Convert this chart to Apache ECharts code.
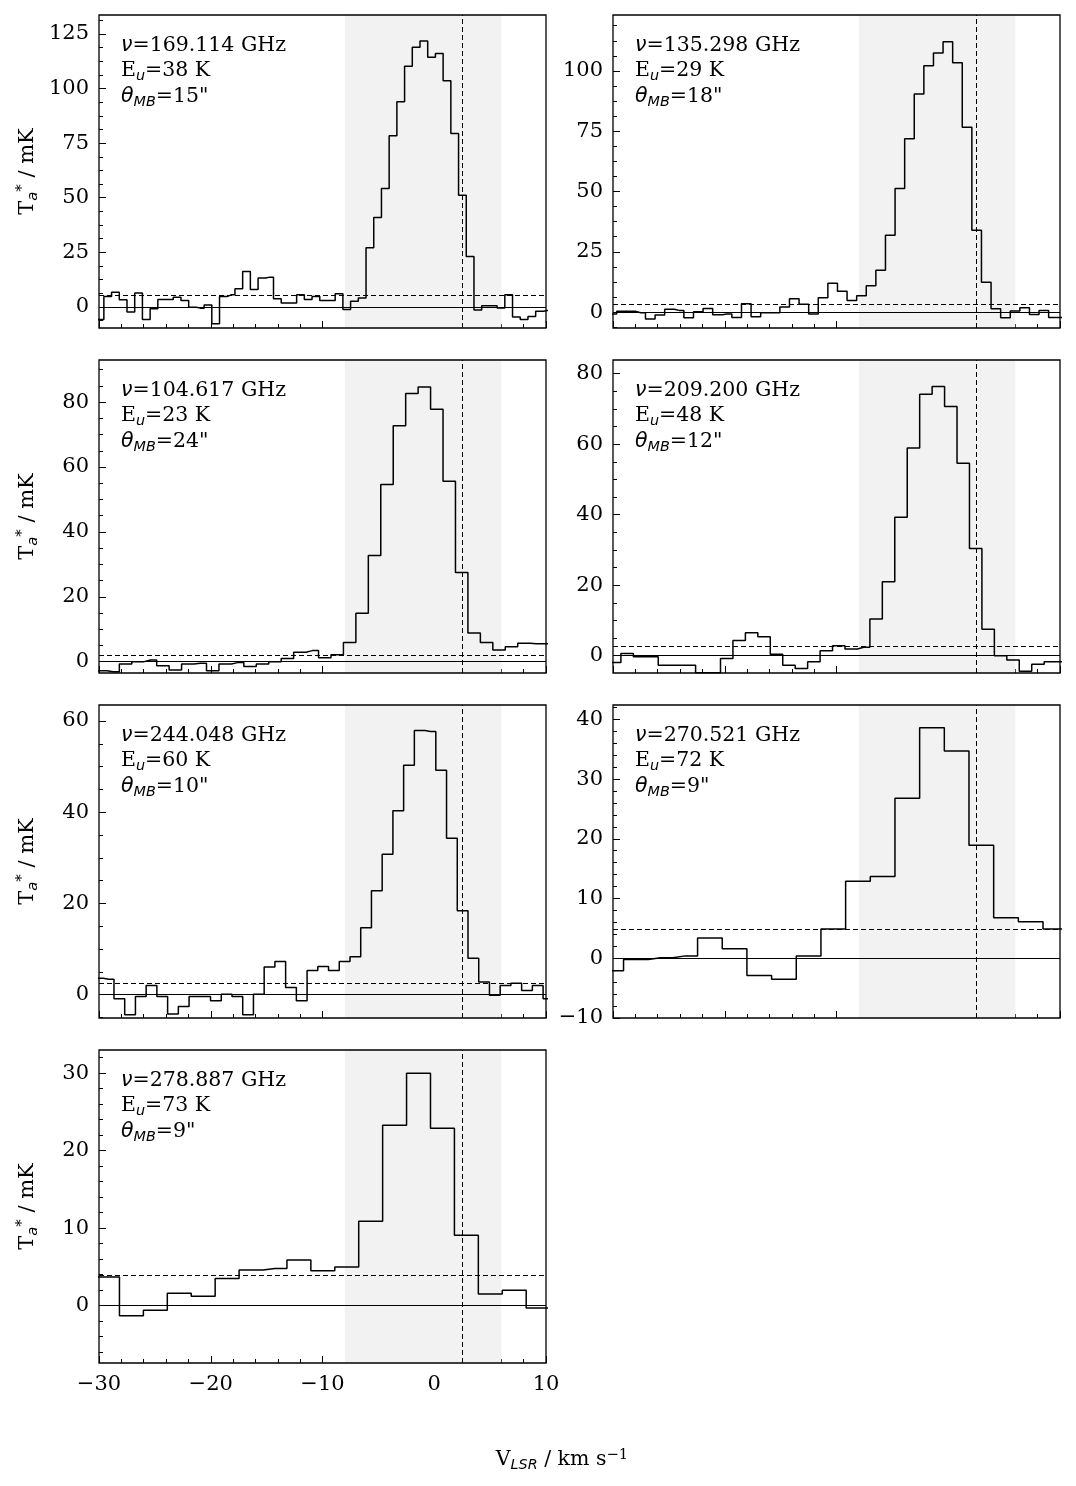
<!DOCTYPE html>
<html>
<head>
<meta charset="utf-8">
<script src="https://cdn.jsdelivr.net/npm/echarts@6/dist/echarts.min.js"></script>
<style>
  html, body { margin: 0; padding: 0; background: #fff; }
  #chart { width: 1076px; height: 1486px; }
</style>
</head>
<body>
<div id="chart"></div>
<script>
// velocity axis (km/s)
const velMin = -30;
const velMax = 10;
const shadeFrom = -8;
const shadeTo = 6;
const vSource = 2.5;

// line info shown in each panel
const freqs = ["169.114", "135.298", "104.617", "209.200", "244.048", "270.521", "278.887"];
const eUp = [38, 29, 23, 48, 60, 72, 73];
const beams = [15, 18, 24, 12, 10, 9, 9];

// channel grid: centre of first channel and channel width (km/s)
const chanStart = [-29.91, -30.10, -29.85, -29.85, -30.10, -30.16, -29.24];
const chanWidth = [0.69, 0.859, 1.114, 1.114, 0.960, 2.208, 2.141];

// 3 sigma noise level (mK)
const sigma3 = [5.2, 3.3, 2.0, 2.8, 2.6, 4.9, 3.9];

// y ranges and ticks
const yMin = [-9.7, -6.6, -3.5, -4.9, -5.1, -10.0, -7.4];
const yMax = [133.7, 123.2, 93.0, 83.9, 63.5, 42.4, 33.0];
const yTicks = [
  [0, 25, 50, 75, 100, 125],
  [0, 25, 50, 75, 100],
  [0, 20, 40, 60, 80],
  [0, 20, 40, 60, 80],
  [0, 20, 40, 60],
  [-10, 0, 10, 20, 30, 40],
  [0, 10, 20, 30]
];
const yMinorStep = [6.25, 6.25, 5, 5, 5, 2, 2];

// spectra, T_a* in mK per channel
const spec169 = [-5.8, 4.7, 6.7, 3.2, -2.4, 6.3, -5.8, -0.9, 3.4, 3.4, 4.4, 2.9, -0.2, -0.6, 0.8,
  -7.8, 4.7, 5.5, 8.3, 16.2, 7.9, 13.2, 13.6, 3.7, 1.8, 1.8, 5.5, 3.4, 4.7, 2.9, 2.9, 6.0, -1.2,
  2.6, 4.0, 27.1, 40.9, 54.2, 78.4, 94.0, 110.2, 118.9, 121.8, 114.3, 116.1, 103.6, 79.4, 51.1,
  23.1, -1.4, 0.5, 0.5, -0.5, 5.5, -4.7, -5.8, -4.4, -2.0, -1.7];
const spec135 = [-0.8, 0.3, 0.3, -0.3, -2.9, -1.2, 1.2, 0.7, -2.4, 0.1, 1.5, -1.1, -0.8, -2.2,
  3.5, -1.9, -0.3, -0.3, 2.1, 5.5, 3.2, -0.8, 5.9, 12.0, 8.6, 4.8, 6.8, 10.9, 17.3, 31.9, 51.2,
  71.9, 90.4, 102.2, 107.4, 112.1, 103.4, 76.7, 33.9, 12.4, 1.4, -2.4, 0.4, 1.8, -1.0, 0.7, -2.2];
const spec104 = [-2.8, -3.1, -0.7, 0.0, 0.5, -1.3, -2.6, -0.7, -0.5, -2.8, -0.7, -0.3, -1.5,
  -0.7, 0.0, 1.0, 2.9, 3.4, 1.2, 2.1, 5.9, 14.9, 32.7, 54.6, 72.7, 82.7, 84.7, 77.8, 55.6, 27.5,
  8.8, 5.9, 3.6, 4.6, 5.7, 5.5];
const spec209 = [-1.9, 0.6, -0.3, -0.3, -2.7, -2.7, -2.7, -4.8, -4.8, -0.8, 4.3, 6.5, 5.4, 0.4,
  -2.7, -3.6, -1.7, 1.4, 2.8, 1.9, 2.4, 10.4, 21.0, 39.3, 58.9, 74.2, 76.4, 70.7, 54.6, 30.4,
  7.5, 0.0, -1.2, -4.4, -2.4, -1.7];
const spec244 = [3.6, 3.4, -0.9, -4.4, -0.4, 2.0, -0.4, -4.2, -2.6, -0.4, -0.4, -1.3, 0.1, -0.4,
  -4.4, 0.1, 6.1, 7.3, 1.6, -1.3, 5.3, 6.2, 5.3, 7.3, 8.3, 14.7, 22.8, 30.8, 40.3, 50.3, 57.9,
  57.7, 49.2, 34.3, 18.4, 8.0, 2.8, -0.1, 2.0, 2.5, 0.9, 2.0, -0.9];
const spec270 = [-2.1, -0.2, 0.1, 0.4, 3.4, 1.6, -2.9, -3.5, 0.4, 4.9, 12.9, 13.7, 26.8, 38.6,
  34.7, 18.9, 6.8, 6.1, 4.9];
const spec278 = [3.7, -1.3, -0.6, 1.6, 1.2, 3.5, 4.6, 4.8, 5.9, 4.5, 5.0, 10.9, 23.3, 30.0, 22.9,
  9.1, 1.5, 2.0, -0.3];

const spectra = [spec169, spec135, spec104, spec209, spec244, spec270, spec278];

// layout (px)
const colLeft = [99, 613];
const rowTop = [15, 360, 705, 1050];
const panelW = 447;
const panelH = 313;

const serif = "DejaVu Serif";
const fmtMinus = (v) => String(v).replace("-", "\u2212");

const buildSteps = (i) => {
  const vals = spectra[i];
  const pts = [[velMin - 5, vals[0]]];
  for (let k = 0; k < vals.length; k++) {
    pts.push([chanStart[i] + k * chanWidth[i], vals[k]]);
  }
  pts.push([velMax + 5, vals[vals.length - 1]]);
  return pts;
};

const minorValues = (i) => {
  const out = [];
  const step = yMinorStep[i];
  for (let v = Math.ceil(yMin[i] / step) * step; v <= yMax[i]; v += step) {
    out.push(Math.round(v * 100) / 100);
  }
  return out;
};

const makeRich = (size, lh) => ({
  t: { fontFamily: serif, fontSize: size, lineHeight: lh, color: "#000" },
  it: { fontFamily: "DejaVu Sans", fontStyle: "italic", fontSize: size, lineHeight: lh, color: "#000" },
  sub: { fontFamily: "DejaVu Sans", fontStyle: "italic", fontSize: size * 0.7, lineHeight: size * 0.68, verticalAlign: "bottom", color: "#000" },
  sup: { fontFamily: serif, fontSize: size * 0.72, lineHeight: size * 0.62, verticalAlign: "top", color: "#000" }
});

const infoRich = makeRich(20.5, 25.3);
const titleRich = makeRich(21, 26);

const getOption = () => {
  const grids = [];
  const xAxes = [];
  const yAxes = [];
  const series = [];
  const graphics = [];

  for (let i = 0; i < spectra.length; i++) {
    const col = i % 2;
    const row = Math.floor(i / 2);
    const left = colLeft[col];
    const top = rowTop[row];

    grids.push({ left: left, top: top, width: panelW, height: panelH, show: false });

    xAxes.push({
      type: "value",
      gridIndex: i,
      min: velMin,
      max: velMax,
      interval: 10,
      axisLine: { show: false, onZero: false },
      axisTick: { inside: true, length: 7, lineStyle: { color: "#000", width: 1 } },
      minorTick: { show: true, splitNumber: 5, length: 4, lineStyle: { color: "#000", width: 1 } },
      splitLine: { show: false },
      axisLabel: {
        show: i === 6,
        margin: 11,
        fontFamily: serif,
        fontSize: 21,
        color: "#000",
        formatter: fmtMinus
      }
    });

    yAxes.push({
      type: "value",
      gridIndex: i,
      position: "left",
      min: yMin[i],
      max: yMax[i],
      axisLine: { show: false, onZero: false },
      axisTick: { inside: true, length: 7, customValues: yTicks[i], lineStyle: { color: "#000", width: 1 } },
      splitLine: { show: false },
      axisLabel: {
        customValues: yTicks[i],
        margin: 10,
        fontFamily: serif,
        fontSize: 21,
        color: "#000",
        formatter: fmtMinus
      }
    });
    yAxes.push({
      type: "value",
      gridIndex: i,
      position: "left",
      min: yMin[i],
      max: yMax[i],
      axisLine: { show: false, onZero: false },
      axisTick: { inside: true, length: 4, customValues: minorValues(i), lineStyle: { color: "#000", width: 1 } },
      splitLine: { show: false },
      axisLabel: { show: false }
    });

    series.push({
      type: "line",
      xAxisIndex: i,
      yAxisIndex: 2 * i,
      data: buildSteps(i),
      step: "middle",
      showSymbol: false,
      clip: true,
      animation: false,
      lineStyle: { color: "#000", width: 1.5 },
      z: 3,
      markArea: {
        silent: true,
        itemStyle: { color: "#f2f2f2" },
        data: [[{ xAxis: shadeFrom }, { xAxis: shadeTo }]]
      },
      markLine: {
        silent: true,
        symbol: "none",
        animation: false,
        label: { show: false },
        data: [
          { yAxis: 0, lineStyle: { color: "#000", width: 1, type: "solid" } },
          { yAxis: sigma3[i], lineStyle: { color: "#000", width: 1, type: [5, 3] } },
          { xAxis: vSource, lineStyle: { color: "#000", width: 1, type: [5, 3] } }
        ]
      }
    });

    // frame
    graphics.push({
      type: "rect",
      z: 100,
      shape: { x: left, y: top, width: panelW, height: panelH },
      style: { fill: null, stroke: "#000", lineWidth: 1.3 }
    });

    // line info
    graphics.push({
      type: "text",
      z: 100,
      x: left + 22,
      y: top + 18,
      style: {
        text: "{it|\u03bd}{t|=" + freqs[i] + " GHz}\n{t|E}{sub|u}{t|=" + eUp[i] + " K}\n{it|\u03b8}{sub|MB}{t|=" + beams[i] + "\"}",
        rich: infoRich
      }
    });

    // y title on the left column
    if (col === 0) {
      graphics.push({
        type: "text",
        z: 100,
        x: 28,
        y: top + panelH / 2,
        rotation: Math.PI / 2,
        style: {
          text: "{t|T}{sub|a}{sup|*}{t| / mK}",
          rich: titleRich,
          align: "center",
          verticalAlign: "middle"
        }
      });
    }
  }

  graphics.push({
    type: "text",
    z: 100,
    x: 562,
    y: 1460,
    style: {
      text: "{t|V}{sub|LSR}{t| / km s}{sup|\u22121}",
      rich: makeRich(20.5, 25),
      align: "center",
      verticalAlign: "middle"
    }
  });

  return {
    backgroundColor: "#fff",
    animation: false,
    grid: grids,
    xAxis: xAxes,
    yAxis: yAxes,
    series: series,
    graphic: graphics
  };
};

const initCharts = () => {
  const chart = echarts.init(document.getElementById("chart"), null, { renderer: "canvas" });
  chart.setOption(getOption());
};

window.addEventListener("load", () => {
  initCharts();
});
</script>
</body>
</html>
